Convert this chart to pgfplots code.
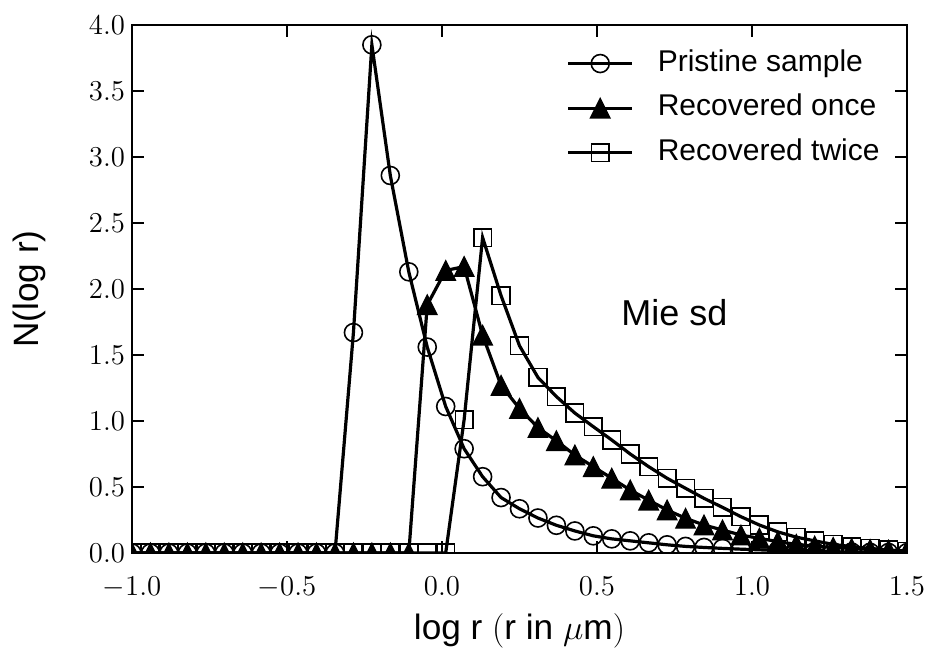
\documentclass[border=0pt]{standalone}
\usepackage{fontspec}
\setmainfont{Liberation Sans}
\usepackage{pgfplots}
\usepackage{pgfplotstable}
\pgfplotsset{compat=1.18}

\pgfdeclareplotmark{mpltri}{%
  \pgfpathmoveto{\pgfqpoint{0pt}{\pgfplotmarksize}}%
  \pgfpathlineto{\pgfqpoint{-\pgfplotmarksize}{-\pgfplotmarksize}}%
  \pgfpathlineto{\pgfqpoint{\pgfplotmarksize}{-\pgfplotmarksize}}%
  \pgfpathclose\pgfusepathqfillstroke}

\pgfplotstableread{
x        pristine  once   twice
-1.0000  0         0      0
-0.9405  0         0      0
-0.8810  0         0      0
-0.8214  0         0      0
-0.7619  0         0      0
-0.7024  0         0      0
-0.6429  0         0      0
-0.5833  0         0      0
-0.5238  0         0      0
-0.4643  0         0      0
-0.4048  0         0      0
-0.3452  0         0      0
-0.2857  1.67      0      0
-0.2262  3.85      0      0
-0.1667  2.86      0      0
-0.1071  2.13      0      0
-0.0476  1.56      1.88   0
0.0119   1.11      2.14   0
0.0714   0.79      2.17   1.01
0.1310   0.578     1.65   2.39
0.1905   0.42      1.27   1.95
0.2500   0.335     1.095  1.57
0.3095   0.265     0.95   1.33
0.3690   0.21      0.85   1.185
0.4286   0.167     0.742  1.06
0.4881   0.13      0.654  0.957
0.5476   0.107     0.566  0.856
0.6071   0.092     0.477  0.75
0.6667   0.077     0.40   0.654
0.7262   0.062     0.326  0.566
0.7857   0.050     0.263  0.49
0.8452   0.042     0.212  0.414
0.9048   0.035     0.174  0.346
0.9643   0.029     0.136  0.275
1.0238   0.024     0.111  0.212
1.0833   0.019     0.086  0.16
1.1429   0.015     0.065  0.12
1.2024   0.012     0.052  0.092
1.2619   0.009     0.042  0.065
1.3214   0.007     0.034  0.048
1.3810   0.005     0.027  0.035
1.4405   0.004     0.021  0.022
1.5000   0.003     0.016  0.012
}\datatable

\begin{document}
\begin{tikzpicture}
\begin{axis}[
  name=ax,
  scale only axis,
  width=387.5pt, height=264pt,
  xmin=-1, xmax=1.5, ymin=0, ymax=4,
  xtick={-1,-0.5,0,0.5,1,1.5},
  ytick={0,0.5,1,1.5,2,2.5,3,3.5,4},
  tick align=inside,
  major tick length=6pt,
  axis line style={line width=1.1pt},
  every tick/.style={black, line width=0.9pt},
  tick label style={font=\fontsize{15.5}{18}\selectfont},
  xticklabel style={yshift=-8.5pt, /pgf/number format/.cd, fixed, fixed zerofill, precision=1},
  yticklabel style={/pgf/number format/.cd, fixed, fixed zerofill, precision=1},
  xlabel={log r $(\mathrm{r\ in}\ \mu\mathrm{m})$},
  ylabel={N(log r)},
  every axis x label/.style={at={(axis description cs:0.5,-0.148)}, anchor=center, font=\fontsize{17.6}{20}\selectfont},
  every axis y label/.style={at={(axis description cs:-0.132,0.5)}, rotate=90, anchor=center, font=\fontsize{17.6}{20}\selectfont},
  clip marker paths=true,
  legend style={draw=none, fill=none, at={(axis description cs:0.5603,0.97)}, anchor=north west,
    font=\fontsize{15}{18}\selectfont, inner sep=0pt, row sep=0pt,
    nodes={text height=11pt, text depth=3.5pt, inner ysep=3.9pt, inner xsep=5pt},
    cells={anchor=west}},
  legend image code/.code={\draw[mark repeat=2,mark phase=2] plot coordinates {(0pt,0pt) (16pt,0pt) (32pt,0pt)};\path (39pt,0pt);},
]
\addplot[black, line width=1.6pt, mark=o, mark size=4.5pt, mark options={line width=0.8pt, solid}] table[x=x, y=pristine] {\datatable};
\addlegendentry{Pristine sample}
\addplot[black, line width=1.6pt, mark=mpltri, mark size=4.9pt, mark options={line width=0.6pt, solid, fill=black}] table[x=x, y=once] {\datatable};
\addlegendentry{Recovered once}
\addplot[black, line width=1.6pt, mark=square, mark size=4.4pt, mark options={line width=0.8pt, solid}] table[x=x, y=twice] {\datatable};
\addlegendentry{Recovered twice}
\node[font=\fontsize{18}{20}\selectfont] at (axis cs:0.75,1.82) {Mie sd};
\end{axis}
\pgfresetboundingbox
\path ([shift={(-66pt,-49.5pt)}]ax.south west) rectangle ([shift={(12.5pt,12.5pt)}]ax.north east);
\end{tikzpicture}
\end{document}
